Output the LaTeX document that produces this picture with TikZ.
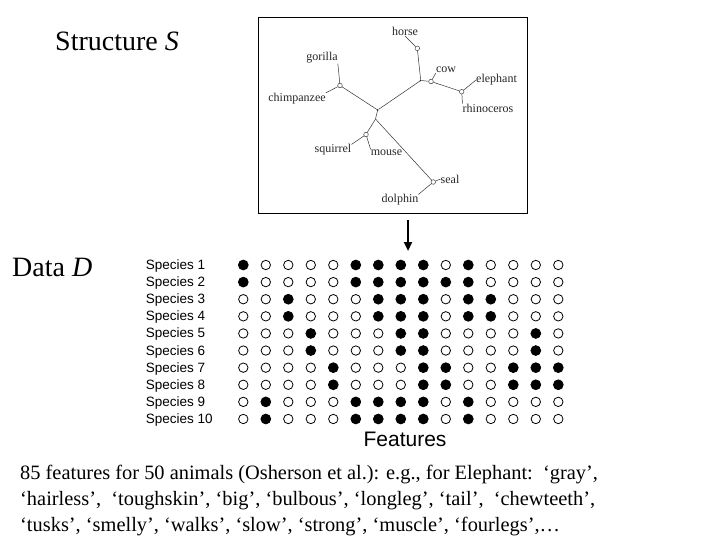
\documentclass[tikz,border=0pt]{standalone}
\usepackage{fontspec}
\setmainfont{Liberation Serif}
\setsansfont{Liberation Sans}
\usepackage{tikz}
\usetikzlibrary{arrows.meta,positioning}
\tikzset{
  slide-title/.style={anchor=base west, inner sep=0pt, font=\fontsize{28}{32}\selectfont},
  species-label/.style={anchor=base west, inner sep=0pt, font=\sffamily\fontsize{13.5}{16}\selectfont},
  note-line/.style={anchor=base west, inner sep=0pt, font=\fontsize{20.4}{26}\selectfont},
  feat-0/.style={circle, draw=black, fill=white, line width=0.8pt, minimum size=9.4pt, inner sep=0pt},
  feat-1/.style={circle, draw=black, fill=black, line width=0.8pt, minimum size=9.8pt, inner sep=0pt},
  tree-leaf/.style={circle, draw=black!80, fill=white, line width=0.45pt, minimum size=4.6pt, inner sep=0pt},
  tree-joint/.style={circle, fill=black!85, minimum size=2pt, inner sep=0pt},
  tree-edge/.style={draw=black!80, line width=0.5pt},
  tree-label/.style={inner sep=0pt, text=black!85, font=\fontsize{12}{14}\selectfont}
}

\begin{document}
\begin{tikzpicture}[x=1pt, y=-1pt]
  \useasboundingbox (0,0) rectangle (720,540);

  % titles
  \node[slide-title] (title-s) at (55,50.7) {Structure \textit{S}};
  \node[slide-title] (title-d) at (12,276.7) {Data \textit{D}};

  % structure box
  \node[draw=black, line width=0.9pt, minimum width=269pt, minimum height=196pt, inner sep=0pt] (tree-box) at (392.5,115) {};

  % tree joints and leaves
  \node[tree-joint] (j1) at (377.7,110) {};
  \coordinate (j1b) at (375.5,119);
  \node[tree-joint] (j2) at (420.7,80.5) {};
  \node[tree-leaf] (gc) at (340,85.5) {};
  \node[tree-leaf] (hs) at (417.3,48.3) {};
  \node[tree-leaf] (cw) at (431,81.5) {};
  \node[tree-leaf] (er) at (461.7,91.7) {};
  \node[tree-leaf] (sm) at (366,134.5) {};
  \node[tree-leaf] (sd) at (433.3,182) {};

  % tree labels
  \node[tree-label] (gorilla) at (322,58) {gorilla};
  \node[tree-label] (chimp) at (297,98.5) {chimpanzee};
  \node[tree-label] (horse) at (405,31.5) {horse};
  \node[tree-label] (cow) at (446,70) {cow};
  \node[tree-label, anchor=west] (elephant) at (476,80) {elephant};
  \node[tree-label] (rhino) at (488,108) {rhinoceros};
  \node[tree-label] (squirrel) at (333,150) {squirrel};
  \node[tree-label] (mouse) at (386.5,152.5) {mouse};
  \node[tree-label] (seal) at (450,179) {seal};
  \node[tree-label] (dolphin) at (400,200) {dolphin};

  % tree branches
  \draw[tree-edge] (j1) -- (gc);
  \draw[tree-edge] (j1) -- (j2);
  \draw[tree-edge] (j2) -- (hs);
  \draw[tree-edge] (j2) -- (cw);
  \draw[tree-edge] (cw) -- (er);
  \draw[tree-edge] (j1) -- (j1b);
  \draw[tree-edge] (j1b) -- (sm);
  \draw[tree-edge] (j1b) -- (sd);

  % stubs to leaf labels
  \draw[tree-edge] (gc) -- (gorilla.south east);
  \draw[tree-edge] (gc) -- (chimp.north east);
  \draw[tree-edge] (hs) -- (horse.south);
  \draw[tree-edge] (cw) -- (cow.south west);
  \draw[tree-edge] (er) -- (elephant.west);
  \draw[tree-edge] (er) -- (rhino.north west);
  \draw[tree-edge] (sm) -- (squirrel.north east);
  \draw[tree-edge] (sm) -- (mouse.north west);
  \draw[tree-edge] (sd) -- (seal.west);
  \draw[tree-edge] (sd) -- (dolphin.north east);

  % arrow from structure to data
  \coordinate (arr-top) at (408,220);
  \coordinate (arr-tip) at (408,251);
  \draw[-{Triangle[length=9pt,width=8pt]}, line width=2.2pt] (arr-top) -- (arr-tip);

  % species labels
  \foreach \r in {1,...,10}
    \node[species-label] (sp\r) at (145.7,{269.5+17.11*(\r-1)}) {Species \r};

  % feature matrix
  \foreach \pat [count=\r] in {
      {1,0,0,0,0,1,1,1,1,0,1,0,0,0,0},
      {1,0,0,0,0,1,1,1,1,1,1,0,0,0,0},
      {0,0,1,0,0,0,1,1,1,0,1,1,0,0,0},
      {0,0,1,0,0,0,1,1,1,0,1,1,0,0,0},
      {0,0,0,1,0,0,0,1,1,0,0,0,0,1,0},
      {0,0,0,1,0,0,0,1,1,0,0,0,0,1,0},
      {0,0,0,0,1,0,0,0,1,1,0,0,1,1,1},
      {0,0,0,0,1,0,0,0,1,1,0,0,1,1,1},
      {0,1,0,0,0,1,1,1,1,0,1,0,0,0,0},
      {0,1,0,0,0,1,1,1,1,0,1,0,0,0,0}}
    \foreach \v [count=\c] in \pat
      \node[feat-\v] (f\r-\c) at ({243.3+22.5*(\c-1)},{265+17.11*(\r-1)}) {};

  \node[anchor=base, inner sep=0pt, font=\sffamily\fontsize{21}{24}\selectfont] (features) at (405,446) {Features};

  % note on the data
  \node[note-line] (note1) at (20,479) {85 features for 50 animals (Osherson et al.): e.g., for Elephant:\ \ ‘gray’,};
  \node[note-line] (note2) at (20,505) {‘hairless’,\ \ ‘toughskin’, ‘big’, ‘bulbous’, ‘longleg’, ‘tail’,\ \ ‘chewteeth’,};
  \node[note-line] (note3) at (20,531) {‘tusks’, ‘smelly’, ‘walks’, ‘slow’, ‘strong’, ‘muscle’, ‘fourlegs’,…};
\end{tikzpicture}
\end{document}
